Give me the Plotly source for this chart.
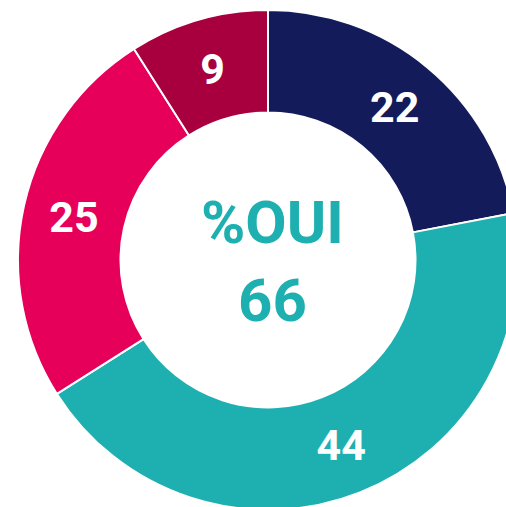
import plotly.graph_objects as go

labels = ["A", "B", "C", "D"]
values = [22, 44, 25, 9]
colors = ["#131B5A", "#1EB0B0", "#E6005A", "#A8003F"]
center_title = "%OUI"
center_value = "66"

W, H = 536, 520
cx, cy, r = 268, 260, 250

fig = go.Figure(go.Pie(
    labels=labels,
    values=values,
    sort=False,
    direction="clockwise",
    rotation=0,
    hole=0.59,
    marker=dict(colors=colors, line=dict(color="white", width=2)),
    textinfo="value",
    textposition="inside",
    insidetextorientation="horizontal",
    textfont=dict(family="Roboto", size=43, color="white", weight=700),
    domain=dict(x=[(cx - r) / W, (cx + r) / W], y=[(H - cy - r) / H, (H - cy + r) / H]),
    showlegend=False,
    hoverinfo="skip",
))

fig.add_annotation(
    x=cx / W, y=(H - cy) / H, xref="paper", yref="paper",
    text=f"{center_title}<br>{center_value}",
    showarrow=False,
    xshift=4, yshift=-1,
    font=dict(family="Roboto", size=60, color="#1EB0B0", weight=700),
    align="center",
)

fig.update_layout(
    width=W, height=H,
    margin=dict(l=0, r=0, t=0, b=0),
    paper_bgcolor="white",
    plot_bgcolor="white",
)

fig.write_html(
    "out.html",
    config={"displayModeBar": False},
    post_script="document.documentElement.style.overflow='hidden';document.body.style.overflow='hidden';document.body.style.margin='0';",
)
